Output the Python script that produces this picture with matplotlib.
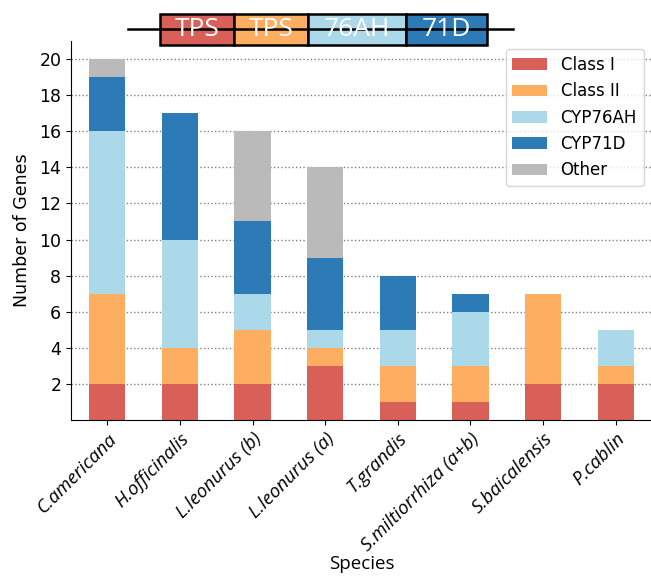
import matplotlib
matplotlib.use("Agg")
import matplotlib.pyplot as plt
from matplotlib.patches import Rectangle
from matplotlib.lines import Line2D
import numpy as np

species = ["C.americana", "H.officinalis", "L.leonurus (b)", "L.leonurus (a)",
           "T.grandis", "S.miltiorrhiza (a+b)", "S.baicalensis", "P.cablin"]
class_i = [2, 2, 2, 3, 1, 1, 2, 2]
class_ii = [5, 2, 3, 1, 2, 2, 5, 1]
cyp76ah = [9, 6, 2, 1, 2, 3, 0, 2]
cyp71d = [3, 7, 4, 4, 3, 1, 0, 0]
other = [1, 0, 5, 5, 0, 0, 0, 0]

series = [("Class I", class_i, "#d95f59"),
          ("Class II", class_ii, "#fdae61"),
          ("CYP76AH", cyp76ah, "#abd9e9"),
          ("CYP71D", cyp71d, "#2c7bb6"),
          ("Other", other, "#bababa")]

# gene cluster sketch on top
gene_labels = ["TPS", "TPS", "76AH", "71D"]
gene_colors = ["#d95f59", "#fdae61", "#abd9e9", "#2c7bb6"]
gene_widths = [74, 74, 98, 81]

fig = plt.figure(figsize=(6.51, 5.76), dpi=100)
ax = fig.add_axes([71/651, 156/576, 581/651, 379/576])

x = np.arange(len(species))
bottom = np.zeros(len(species))
for name, vals, col in series:
    ax.bar(x, vals, 0.5, bottom=bottom, color=col, label=name, zorder=2)
    bottom += np.array(vals)

ax.set_xlim(-0.5, 7.5)
ax.set_ylim(0, 21)
ax.set_yticks(range(2, 21, 2))
ax.tick_params(axis="y", labelsize=12.5)
ax.yaxis.grid(True, linestyle=":", color="gray", linewidth=1, zorder=0)
ax.set_axisbelow(True)
ax.spines["top"].set_visible(False)
ax.spines["right"].set_visible(False)

ax.set_xticks(x)
ax.set_xticklabels(species, rotation=45, ha="right", rotation_mode="anchor",
                   fontsize=13.5, fontfamily="Open Sans", fontstyle="italic")
ax.set_ylabel("Number of Genes", fontsize=12.5, labelpad=6)
ax.set_xlabel("Species", fontsize=13.5, fontfamily="Open Sans", labelpad=0)

ax.legend(loc="upper right", fontsize=12, labelspacing=0.5, handlelength=2.1)

# draw the gene diagram in pixel-ish figure coords
W, H = 651, 576
yc = 29
fig.add_artist(Line2D([128/W, 513/W], [1 - yc/H, 1 - yc/H], color="black", lw=1.8))
x0 = 160
for lab, col, w in zip(gene_labels, gene_colors, gene_widths):
    r = Rectangle((x0/W, 1 - 45/H), w/W, 31/H, facecolor=col, edgecolor="black",
                  lw=1.8, transform=fig.transFigure)
    fig.add_artist(r)
    fig.text((x0 + w/2)/W, 1 - yc/H, lab, color="white", fontsize=19,
             fontfamily="Open Sans", ha="center", va="center")
    x0 += w

fig.savefig("out.png", dpi=100)
